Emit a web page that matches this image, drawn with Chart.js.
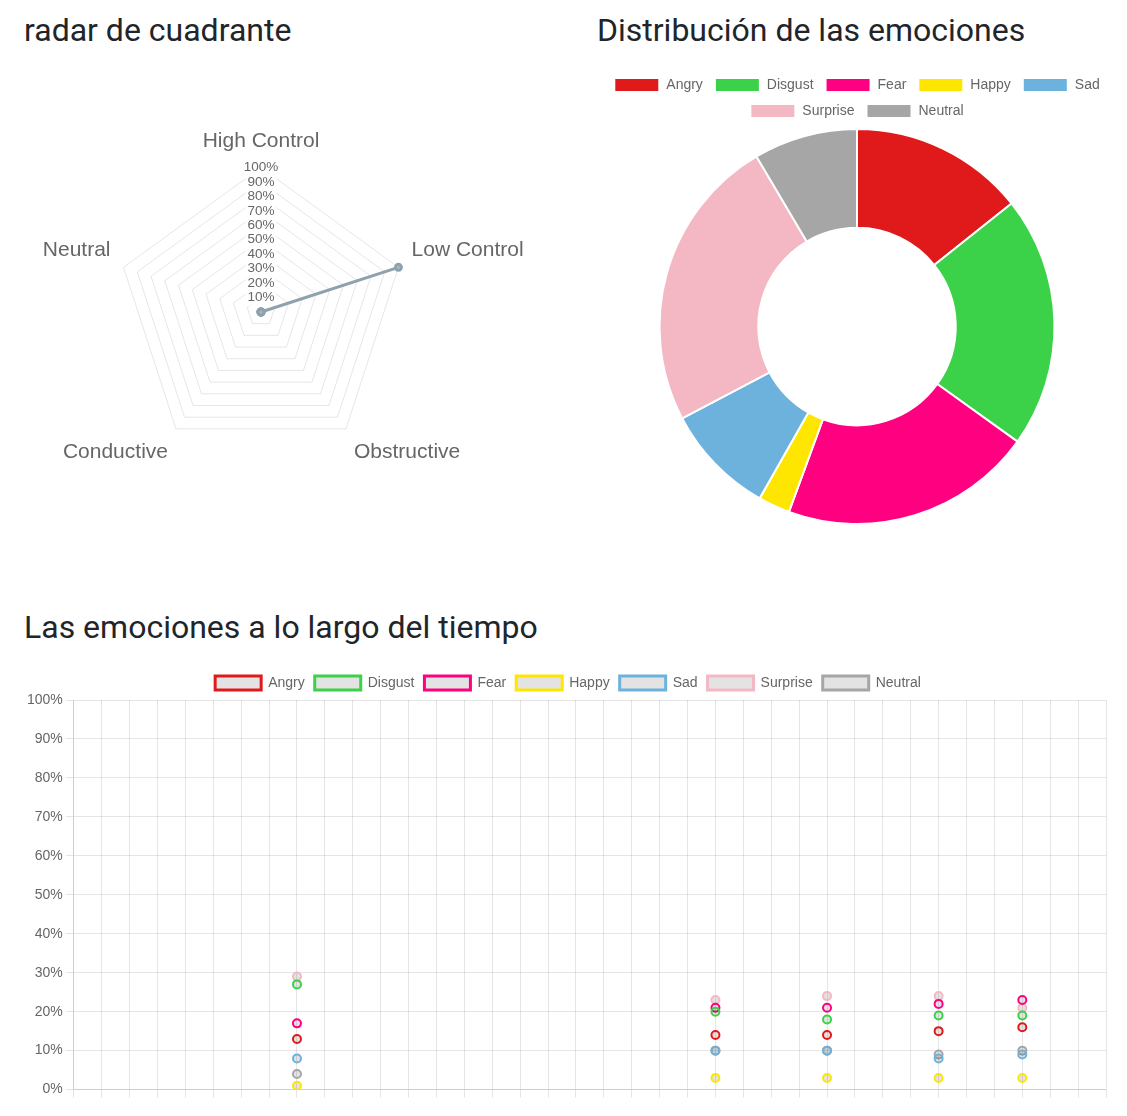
<!DOCTYPE html>
<html>
<head>
    <title>Emociones</title>
    <script src="https://cdn.jsdelivr.net/npm/chart.js"></script>
    <style>
        body {
            margin: 0;
            font-family: 'Roboto', sans-serif;
            background: #ffffff;
            width: 1127px;
            height: 1116px;
            overflow: hidden;
            position: relative;
        }

        h2 {
            position: absolute;
            margin: 0;
            font-weight: 400;
            font-size: 32px;
            color: #212529;
            line-height: 1;
        }

        .box {
            position: absolute;
        }
    </style>
</head>
<body>
<h2 style="left:24px; top:14px;">radar de cuadrante</h2>
<h2 style="left:597px; top:14px;">Distribución de las emociones</h2>
<h2 style="left:24px; top:611px;">Las emociones a lo largo del tiempo</h2>

<div class="box" style="left:21px; top:99px; width:526px; height:398px;">
    <canvas id="radarChart"></canvas>
</div>
<div class="box" style="left:597px; top:66px; width:520px; height:459px;">
    <canvas id="emotionChart"></canvas>
</div>
<div class="box" style="left:24px; top:666px; width:1088px; height:435px;">
    <canvas id="timeChart"></canvas>
</div>

<script>
    // quadrant radar
    const quadrantLabels = ['High Control', 'Low Control', 'Obstructive', 'Conductive', 'Neutral'];
    const quadrantValues = [0, 100, 0, 0, 0];

    // emotions
    const emotions = ['Angry', 'Disgust', 'Fear', 'Happy', 'Sad', 'Surprise', 'Neutral'];
    const emotionColors = ['#e01a1a', '#3bd149', '#ff0080', '#ffe600', '#6cb2dd', '#f3b8c3', '#a6a6a6'];
    const emotionTotals = [14.3, 20.6, 20.7, 2.6, 9.1, 24.2, 8.5];

    // over time: 38 ticks, readings only at a few of them
    const timeLabels = ['1', '2', '3', '4', '5', '6', '7', '8', '9', '10',
        '11', '12', '13', '14', '15', '16', '17', '18', '19', '20',
        '21', '22', '23', '24', '25', '26', '27', '28', '29', '30',
        '31', '32', '33', '34', '35', '36', '37', '38'];
    const sampleIndex = [8, 23, 27, 31, 34];
    const angryValues = [13, 14, 14, 15, 16];
    const disgustValues = [27, 20, 18, 19, 19];
    const fearValues = [17, 21, 21, 22, 23];
    const happyValues = [1, 3, 3, 3, 3];
    const sadValues = [8, 10, 10, 8, 9];
    const surpriseValues = [29, 23, 24, 24, 21];
    const neutralValues = [4, 10, 10, 9, 10];

    const percent = v => v + '%';

    Chart.defaults.color = '#666';
    Chart.defaults.font.size = 14;

    new Chart(document.getElementById('radarChart'), {
        type: 'radar',
        data: {
            labels: quadrantLabels,
            datasets: [{
                label: 'Cuadrante',
                data: quadrantValues,
                borderColor: '#8da2ac',
                backgroundColor: 'rgba(141, 162, 172, 0.2)',
                pointBackgroundColor: '#a9b9c0',
                pointBorderColor: '#8da2ac',
                borderWidth: 3,
                pointRadius: 3
            }]
        },
        options: {
            responsive: true,
            maintainAspectRatio: false,
            animation: false,
            plugins: {
                legend: {display: false}
            },
            scales: {
                r: {
                    min: 0,
                    max: 100,
                    angleLines: {display: false},
                    ticks: {stepSize: 10, callback: percent, font: {size: 13.5}},
                    pointLabels: {font: {size: 21}, color: '#666'}
                }
            }
        }
    });

    new Chart(document.getElementById('emotionChart'), {
        type: 'doughnut',
        data: {
            labels: emotions,
            datasets: [{
                data: emotionTotals,
                backgroundColor: emotionColors,
                borderColor: '#ffffff',
                borderWidth: 2
            }]
        },
        options: {
            responsive: true,
            maintainAspectRatio: false,
            animation: false,
            plugins: {
                legend: {
                    position: 'top',
                    labels: {boxWidth: 45, padding: 12}
                }
            }
        }
    });

    const series = [angryValues, disgustValues, fearValues, happyValues, sadValues, surpriseValues, neutralValues];
    const timeSets = emotions.map((name, i) => ({
        label: name,
        data: series[i].map((v, k) => ({x: timeLabels[sampleIndex[k]], y: v})),
        borderColor: emotionColors[i],
        backgroundColor: 'rgba(0, 0, 0, 0.11)',
        borderWidth: 3,
        pointBorderWidth: 2,
        pointRadius: 4,
        showLine: false
    }));

    new Chart(document.getElementById('timeChart'), {
        type: 'line',
        data: {
            labels: timeLabels,
            datasets: timeSets
        },
        options: {
            responsive: true,
            maintainAspectRatio: false,
            animation: false,
            plugins: {
                legend: {
                    position: 'top',
                    labels: {boxWidth: 46}
                }
            },
            scales: {
                x: {
                    ticks: {display: false}
                },
                y: {
                    min: 0,
                    max: 100,
                    ticks: {stepSize: 10, callback: percent}
                }
            }
        }
    });
</script>
</body>
</html>
